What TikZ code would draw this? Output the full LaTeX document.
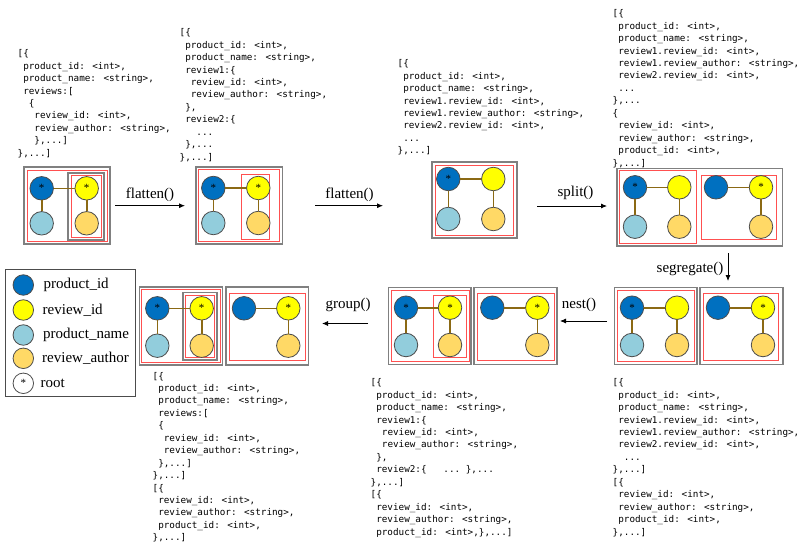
\documentclass[tikz,border=0pt]{standalone}
\usepackage{fontspec}
\setmainfont{Liberation Serif}
\newfontfamily\codefont{DejaVu Sans Mono}
\usetikzlibrary{arrows.meta}
\definecolor{pidc}{HTML}{0070C0}
\definecolor{ridc}{HTML}{FFFF00}
\definecolor{pnamec}{HTML}{92CDDC}
\definecolor{rauthc}{HTML}{FFD966}
\definecolor{edgec}{HTML}{8B6914}
\definecolor{boxc}{HTML}{808080}
\definecolor{redc}{HTML}{FF5050}
\tikzset{
 gnode/.style={circle, draw=black!70, line width=0.8pt, minimum size=23.5pt, inner sep=0pt, font=\fontsize{11}{11}\selectfont},
 pid/.style={gnode, fill=pidc},
 rid/.style={gnode, fill=ridc},
 pname/.style={gnode, fill=pnamec},
 rauth/.style={gnode, fill=rauthc},
 legendnode/.style={minimum size=20.5pt},
 gedge/.style={draw=edgec, line width=1.6pt},
 graybox/.style={draw=boxc, line width=1.6pt},
 redbox/.style={draw=redc, line width=1pt},
 arr/.style={-{Latex[length=6pt,width=5pt]}, line width=0.8pt},
 oplabel/.style={font=\fontsize{15}{15}\selectfont, inner sep=0pt},
 legendlabel/.style={font=\fontsize{15}{15}\selectfont, inner sep=0pt, anchor=west},
 code/.style={font=\codefont\fontsize{9.3}{12.44}\selectfont, align=left, anchor=north west, inner sep=0pt},
}
\newcommand{\fourg}[7]{%
 \node[pid] (#1a) at (#2,#4) {#6};
 \node[rid] (#1b) at (#3,#4) {#7};
 \node[pname] (#1c) at (#2,#5) {};
 \node[rauth] (#1d) at (#3,#5) {};
 \draw[gedge] (#1a) -- (#1b);
 \draw[gedge] (#1a) -- (#1c);
 \draw[gedge] (#1b) -- (#1d);
}
\newcommand{\threeg}[7]{%
 \node[pid] (#1a) at (#2,#4) {#6};
 \node[rid] (#1b) at (#3,#4) {#7};
 \node[rauth] (#1d) at (#3,#5) {};
 \draw[gedge] (#1a) -- (#1b);
 \draw[gedge] (#1b) -- (#1d);
}
\begin{document}
\begin{tikzpicture}[x=1pt,y=-1pt]
\useasboundingbox (0,0) rectangle (801,543);
\fill[white] (0,0) rectangle (801,543);

% ---------- code blocks ----------
\node[code] (b1) at (17.5,49.5) {[\{\\
~product\_id: <int>,\\
~product\_name: <string>,\\
~reviews:[\\
~~\{\\
~~~review\_id: <int>,\\
~~~review\_author: <string>,\\
~~~\},...]\\
\},...]};

\node[code] (b2) at (179.5,28.5) {[\{\\
~product\_id: <int>,\\
~product\_name: <string>,\\
~review1:\{\\
~~review\_id: <int>,\\
~~review\_author: <string>,\\
~\},\\
~review2:\{\\
~~~...\\
~\},...\\
\},...]};

\node[code] (b3) at (397.5,59.5) {[\{\\
~product\_id: <int>,\\
~product\_name: <string>,\\
~review1.review\_id: <int>,\\
~review1.review\_author: <string>,\\
~review2.review\_id: <int>,\\
~...\\
\},...]};

\node[code] (b4) at (612.5,9.5) {[\{\\
~product\_id: <int>,\\
~product\_name: <string>,\\
~review1.review\_id: <int>,\\
~review1.review\_author: <string>,\\
~review2.review\_id: <int>,\\
~...\\
\},...\\
\{\\
~review\_id: <int>,\\
~review\_author: <string>,\\
~product\_id: <int>,\\
\},...]};

\node[code] (b5) at (152.5,371.8) {[\{\\
~product\_id: <int>,\\
~product\_name: <string>,\\
~reviews:[\\
~\{\\
~~review\_id: <int>,\\
~~review\_author: <string>,\\
~\},...]\\
\},...]\\
{}[\{\\
~review\_id: <int>,\\
~review\_author: <string>,\\
~product\_id: <int>,\\
\},...]};

\node[code] (b6) at (370.5,378.5) {[\{\\
~product\_id: <int>,\\
~product\_name: <string>,\\
~review1:\{\\
~~review\_id: <int>,\\
~~review\_author: <string>,\\
~\},\\
~review2:\{~~~...~\},...\\
\},...]\\
{}[\{\\
~review\_id: <int>,\\
~review\_author: <string>,\\
~product\_id: <int>,\},...]};

\node[code] (b7) at (612.5,378.5) {[\{\\
~product\_id: <int>,\\
~product\_name: <string>,\\
~review1.review\_id: <int>,\\
~review1.review\_author: <string>,\\
~review2.review\_id: <int>,\\
~~...\\
\},...]\\
{}[\{\\
~review\_id: <int>,\\
~review\_author: <string>,\\
~product\_id: <int>,\\
\},...]};

% ---------- panel 1 ----------
\draw[graybox] (24,167) rectangle (110,244);
\draw[redbox] (27,170) rectangle (107,241);
\draw[graybox] (68,172.7) rectangle (104,240);
\draw[redbox] (71,175) rectangle (101.5,237);
\fourg{pa}{41.7}{86.7}{188.3}{223.3}{*}{*}

% ---------- panel 2 ----------
\draw[graybox] (195.7,166.7) rectangle (282.3,244);
\draw[redbox] (198.5,169.5) rectangle (279.5,241.5);
\draw[redbox] (241.7,174) rectangle (269.3,239);
\fourg{pb}{213.3}{258.3}{188}{223}{*}{*}

% ---------- panel 3 ----------
\draw[graybox] (432,162) rectangle (517,238);
\draw[redbox] (435,165) rectangle (513.5,235);
\fourg{pc}{448.3}{493.3}{179}{219}{*}{}

% ---------- panel 4 ----------
\draw[graybox] (616.7,168.3) rectangle (782.3,246);
\draw[redbox] (619.3,170.7) rectangle (696,243.3);
\draw[redbox] (701.7,175) rectangle (776.7,239.3);
\fourg{pd}{635}{679.3}{187.3}{226.7}{*}{}
\threeg{pe}{716}{761}{187.3}{226.7}{}{*}

% ---------- panel 5 (segregate) ----------
\draw[graybox] (614.3,287.3) rectangle (696.7,364.3);
\draw[redbox] (617.3,290) rectangle (694,361.7);
\draw[graybox] (700,287.3) rectangle (782.7,364.3);
\draw[redbox] (703.3,293.3) rectangle (778.3,360);
\fourg{pf}{632}{677}{307.7}{345}{*}{}
\threeg{pg}{718}{763}{307.7}{345}{}{*}

% ---------- panel 6 (nest) ----------
\draw[graybox] (388.3,287.3) rectangle (471,364.3);
\draw[redbox] (391,290) rectangle (469,361.7);
\draw[redbox] (433.3,295) rectangle (466.7,357.7);
\draw[graybox] (474,287.3) rectangle (556.7,364.3);
\draw[redbox] (477.3,293.3) rectangle (554,360);
\fourg{ph}{406}{450}{307.7}{345}{*}{*}
\threeg{pi}{492.3}{537.3}{307.7}{345}{}{*}

% ---------- panel 7 (group) ----------
\draw[graybox] (139.3,286.7) rectangle (222.3,365);
\draw[redbox] (141.7,289.3) rectangle (220,362.7);
\draw[graybox] (182.7,292.3) rectangle (216.7,360);
\draw[redbox] (185,295) rectangle (214.3,357.7);
\draw[graybox] (225.7,286.7) rectangle (308.3,365);
\draw[redbox] (229,293.3) rectangle (305,360);
\fourg{pj}{157.3}{201.7}{308.3}{345.7}{*}{*}
\threeg{pk}{244}{288.3}{308.3}{345.7}{}{*}

% ---------- operation arrows ----------
\coordinate (f1s) at (115,205.7); \coordinate (f1e) at (185,205.7);
\draw[arr] (f1s) -- (f1e);
\node[oplabel] (lf1) at (150,194.5) {flatten()};
\coordinate (f2s) at (315,205.7); \coordinate (f2e) at (383,205.7);
\draw[arr] (f2s) -- (f2e);
\node[oplabel] (lf2) at (349.5,194.5) {flatten()};
\coordinate (sps) at (537,206); \coordinate (spe) at (607,206);
\draw[arr] (sps) -- (spe);
\node[oplabel] (lsp) at (575.5,193.3) {split()};
\coordinate (sgs) at (728,253); \coordinate (sge) at (728,281);
\draw[arr] (sgs) -- (sge);
\node[oplabel] (lsg) at (690,269.3) {segregate()};
\coordinate (nss) at (607,321); \coordinate (nse) at (560,321);
\draw[arr] (nss) -- (nse);
\node[oplabel] (lns) at (579,305) {nest()};
\coordinate (grs) at (368,323.5); \coordinate (gre) at (322,323.5);
\draw[arr] (grs) -- (gre);
\node[oplabel] (lgr) at (348,305) {group()};

% ---------- legend ----------
\draw[draw=black!70, line width=0.9pt] (5,269) rectangle (135,396);
\node[pid, legendnode] (l1) at (23.3,285) {};
\node[rid, legendnode] (l2) at (23.3,310) {};
\node[pname, legendnode] (l3) at (23.3,335) {};
\node[rauth, legendnode] (l4) at (23.3,358.3) {};
\node[gnode, legendnode, fill=white] (l5) at (23.3,383.3) {*};
\node[legendlabel] (t1) at (43.5,285) {product\_id};
\node[legendlabel] (t2) at (42.5,310) {review\_id};
\node[legendlabel] (t3) at (43,335) {product\_name};
\node[legendlabel] (t4) at (42,358.3) {review\_author};
\node[legendlabel] (t5) at (40.5,383.3) {root};
\end{tikzpicture}
\end{document}
